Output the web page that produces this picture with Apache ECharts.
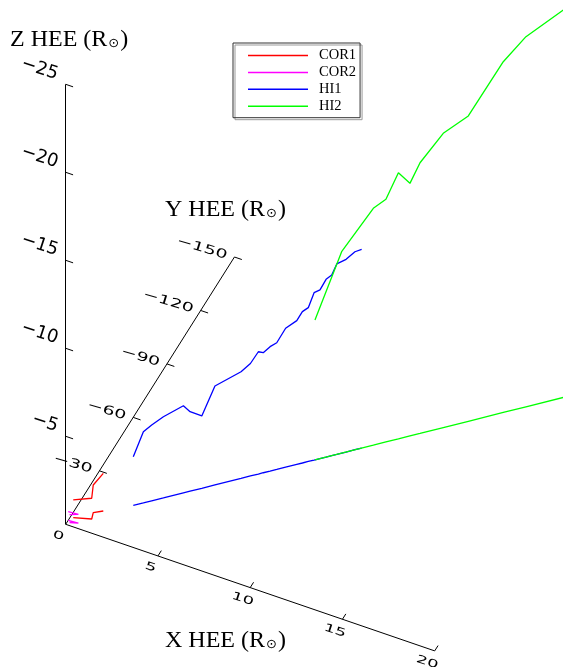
<!DOCTYPE html>
<html><head><meta charset="utf-8">
<script src="https://cdn.jsdelivr.net/npm/echarts@6/dist/echarts.min.js"></script>
<style>html,body{margin:0;padding:0;background:#fff}#c{width:563px;height:667px}</style>
</head><body><div id="c"></div>
<script>
// ---- data (HEE coordinates in solar radii): [x, y, z] ----
const instruments = ['COR1', 'COR2', 'HI1', 'HI2'];
const instrumentColors = ['#ff0000', '#ff00ff', '#0000ff', '#00ff00'];

const cor1Points = [[0.15, 4.25, 1.01], [1.01, 6.56, 1.18], [0.90, 9.72, 1.57], [1.30, 12.09, 2.14]];
const cor2Points = [[0.00, 2.26, 0.49], [0.53, 2.59, 0.49], [0.12, 1.43, 0.45]];
const hi1Points = [
  [2.48, 19.40, 2.77], [2.86, 22.14, 4.05], [3.17, 24.44, 4.31], [3.61, 27.64, 4.61],
  [4.36, 33.11, 4.95], [4.61, 34.95, 4.52], [5.05, 38.15, 4.11], [5.54, 41.80, 5.62],
  [6.52, 48.93, 6.06], [6.87, 51.53, 6.39], [7.17, 53.66, 6.95], [7.35, 55.04, 6.82],
  [7.61, 56.88, 7.07], [7.86, 58.70, 7.20], [8.19, 61.17, 7.89], [8.61, 64.20, 8.17],
  [8.82, 65.73, 8.60], [9.04, 67.37, 8.74], [9.26, 68.93, 9.51], [9.48, 70.57, 9.58],
  [9.71, 72.21, 10.10], [9.92, 73.79, 10.26], [10.11, 75.15, 10.82], [10.46, 77.70, 10.95],
  [10.79, 80.17, 11.25], [11.04, 82.01, 11.29]
];
const hi2Points = [
  [9.29, 69.21, 7.94], [10.29, 76.52, 11.44], [11.48, 85.18, 13.46], [11.95, 88.67, 13.79],
  [12.42, 92.04, 15.12], [12.85, 95.25, 14.35], [13.23, 97.99, 15.38], [14.10, 104.37, 16.72],
  [15.04, 111.23, 17.35], [16.35, 120.82, 19.93], [17.20, 127.04, 21.03], [18.60, 137.27, 22.01]
];
const seriesPoints = [cor1Points, cor2Points, hi1Points, hi2Points];

// axes ranges and ticks
const xAxisMax = 20, yAxisMax = 150, zAxisMax = 25;
const xTicks = [0, 5, 10, 15, 20];
const yTicks = [30, 60, 90, 120, 150];
const zTicks = [5, 10, 15, 20, 25];
const xTickLabels = ['0', '5', '10', '15', '20'];
const yTickLabels = ['30', '60', '90', '120', '150'];
const zTickLabels = ['5', '10', '15', '20', '25'];

// ---- oblique 3D -> 2D view (screen units of the hidden cartesian) ----
const VIEW = { o: [65.7, 524.3], ex: [18.45, 6.33], ey: [1.125, -1.782], ez: [0, -17.6] };
function proj(p) {
  return [
    VIEW.o[0] + p[0] * VIEW.ex[0] + p[1] * VIEW.ey[0] + p[2] * VIEW.ez[0],
    VIEW.o[1] + p[0] * VIEW.ex[1] + p[1] * VIEW.ey[1] + p[2] * VIEW.ez[1]
  ];
}

const chart = echarts.init(document.getElementById('c'), null, { renderer: 'canvas' });

// axis segments
const segs = [];
segs.push([proj([0, 0, 0]), proj([xAxisMax, 0, 0])]);
segs.push([proj([0, 0, 0]), proj([0, yAxisMax, 0])]);
segs.push([proj([0, 0, 0]), proj([0, 0, zAxisMax])]);
xTicks.filter(v => v > 0).forEach(v => segs.push([proj([v, 0, 0]), proj([v, 3, 0])]));
yTicks.forEach(v => segs.push([proj([0, v, 0]), proj([0.4, v, 0])]));
zTicks.forEach(v => segs.push([proj([0, 0, v]), proj([0.4, 0, v])]));

const series = [{
  type: 'lines', coordinateSystem: 'cartesian2d', silent: true, z: 1,
  lineStyle: { color: '#000', width: 1, opacity: 1 },
  data: segs.map(s => ({ coords: s }))
}];

seriesPoints.forEach((pts, i) => {
  const common = {
    type: 'line', name: instruments[i], showSymbol: false, symbol: 'none', silent: true,
    lineStyle: { color: instrumentColors[i], width: 1.3 }, itemStyle: { color: instrumentColors[i] },
    z: 2 + i, clip: true
  };
  series.push(Object.assign({}, common, { data: pts.map(p => proj([p[0], p[1], 0])) }));
  series.push(Object.assign({}, common, { data: pts.map(p => proj(p)) }));
});

chart.setOption({
  animation: false,
  backgroundColor: '#fff',
  grid: { left: 0, right: 0, top: 0, bottom: 0 },
  xAxis: { type: 'value', min: 0, max: 563, show: false },
  yAxis: { type: 'value', min: 0, max: 667, inverse: true, show: false },
  legend: {
    data: instruments, orient: 'vertical', left: 233, top: 43,
    padding: [5, 4, 4, 15], itemWidth: 60, itemHeight: 1.5, itemGap: 1.9, icon: 'rect',
    borderColor: '#333', borderWidth: 1,
    shadowColor: '#999', shadowOffsetX: 2, shadowOffsetY: 2, shadowBlur: 0,
    selectedMode: false,
    textStyle: { fontFamily: 'Liberation Serif', fontSize: 14.5, lineHeight: 14, color: '#000', padding: [0, 0, 0, 6] }
  },
  series: series
});

// ---- text: tick labels and axis titles ----
const deg = Math.PI / 180;
function px(p) { return chart.convertToPixel({ gridIndex: 0 }, proj(p)); }
const graphics = [];
zTicks.forEach((v, i) => {
  const q = px([0, 0, v]);
  graphics.push({ type: 'text', x: q[0] - 8, y: q[1] - 9.5, rotation: -18 * deg, silent: true,
    style: { text: '\u2212' + zTickLabels[i], font: '18px "DejaVu Sans"', fill: '#000',
      align: 'right', verticalAlign: 'middle', textAlign: 'right', textVerticalAlign: 'middle' } });
});
yTicks.forEach((v, i) => {
  const q = px([0, v, 0]);
  graphics.push({ type: 'text', x: q[0] - 7.5, y: q[1] - 1, rotation: -17 * deg, scaleY: 0.65, silent: true,
    style: { text: '\u2212' + yTickLabels[i], font: '19px "DejaVu Sans"', fill: '#000',
      align: 'right', verticalAlign: 'middle', textAlign: 'right', textVerticalAlign: 'middle' } });
});
xTicks.forEach((v, i) => {
  const q = px([v, 0, 0]);
  graphics.push({ type: 'text', x: q[0] - 7.5, y: q[1] + 11.5, rotation: -18 * deg, scaleY: 0.6, silent: true,
    style: { text: xTickLabels[i], font: '18px "DejaVu Sans"', fill: '#000',
      align: 'center', verticalAlign: 'middle', textAlign: 'center', textVerticalAlign: 'middle' } });
});
function title(letter, x, y) {
  return { type: 'text', x: x, y: y, silent: true,
    style: { text: '{a|' + letter + ' HEE (R}{b|\u2299}{a|)}', verticalAlign: 'middle', textVerticalAlign: 'middle',
      rich: { a: { font: '24px "Liberation Serif"', fill: '#000', verticalAlign: 'bottom' },
              b: { font: '13px "DejaVu Sans"', fill: '#000', verticalAlign: 'bottom', padding: [0, 1, 2, 1] } } } };
}
graphics.push(title('Z', 10, 40));
graphics.push(title('Y', 165, 210));
graphics.push(title('X', 165, 641));
chart.setOption({ graphic: { elements: graphics } });
</script></body></html>
